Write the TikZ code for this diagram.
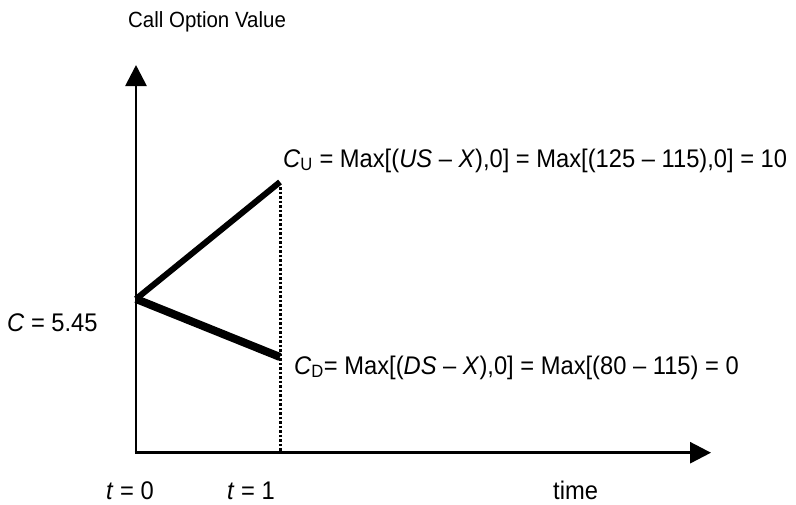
\documentclass[tikz,border=0pt]{standalone}
\usepackage{fontspec}
\setmainfont{Liberation Sans}[FakeStretch=0.93]
\usetikzlibrary{arrows.meta}
\begin{document}
\begin{tikzpicture}[x=1pt,y=-1pt,
  axis/.style={line width=2.8pt,-{Triangle[length=21pt,width=21pt]}},
  upline/.style={line width=6pt},
  downline/.style={line width=8pt},
  guide/.style={line width=3pt,dash pattern=on 2.5pt off 2pt},
  lbl/.style={inner sep=0pt,font=\fontsize{25.5}{30}\selectfont},
  ttl/.style={inner sep=0pt,font=\fontsize{22}{26}\selectfont}]
\useasboundingbox (0,0) rectangle (796,504);
\coordinate (O) at (136,452.7);
\coordinate (ytip) at (136,65);
\coordinate (xtip) at (711,452.7);
\coordinate (V) at (136,299);
\coordinate (U) at (280,182);
\coordinate (Utop) at (280,187);
\coordinate (D) at (280,357);
\coordinate (B) at (280,451);
\draw[guide] (Utop) -- (B);
\draw[axis] (O) -- (ytip);
\draw[axis] ([xshift=-1.4pt]O) -- (xtip);
\draw[upline] (V) -- (U);
\draw[downline] (V) -- (D);
\node[ttl,anchor=base west] (title) at (128,27) {Call Option Value};
\node[lbl,anchor=base west] (cu) at (283,167) {\textit{C}\textsubscript{U} = Max[(\textit{US} – \textit{X}),0] = Max[(125 – 115),0] = 10};
\node[lbl,anchor=base west] (cd) at (294,374) {\textit{C}\textsubscript{D}= Max[(\textit{DS} – \textit{X}),0] = Max[(80 – 115) = 0};
\node[lbl,anchor=base west] (c) at (7,331.5) {\textit{C} = 5.45};
\node[lbl,anchor=base west] (t0) at (106,499) {\textit{t} = 0};
\node[lbl,anchor=base west] (t1) at (227,499) {\textit{t} = 1};
\node[lbl,anchor=base west] (time) at (553,499) {time};
\end{tikzpicture}
\end{document}
